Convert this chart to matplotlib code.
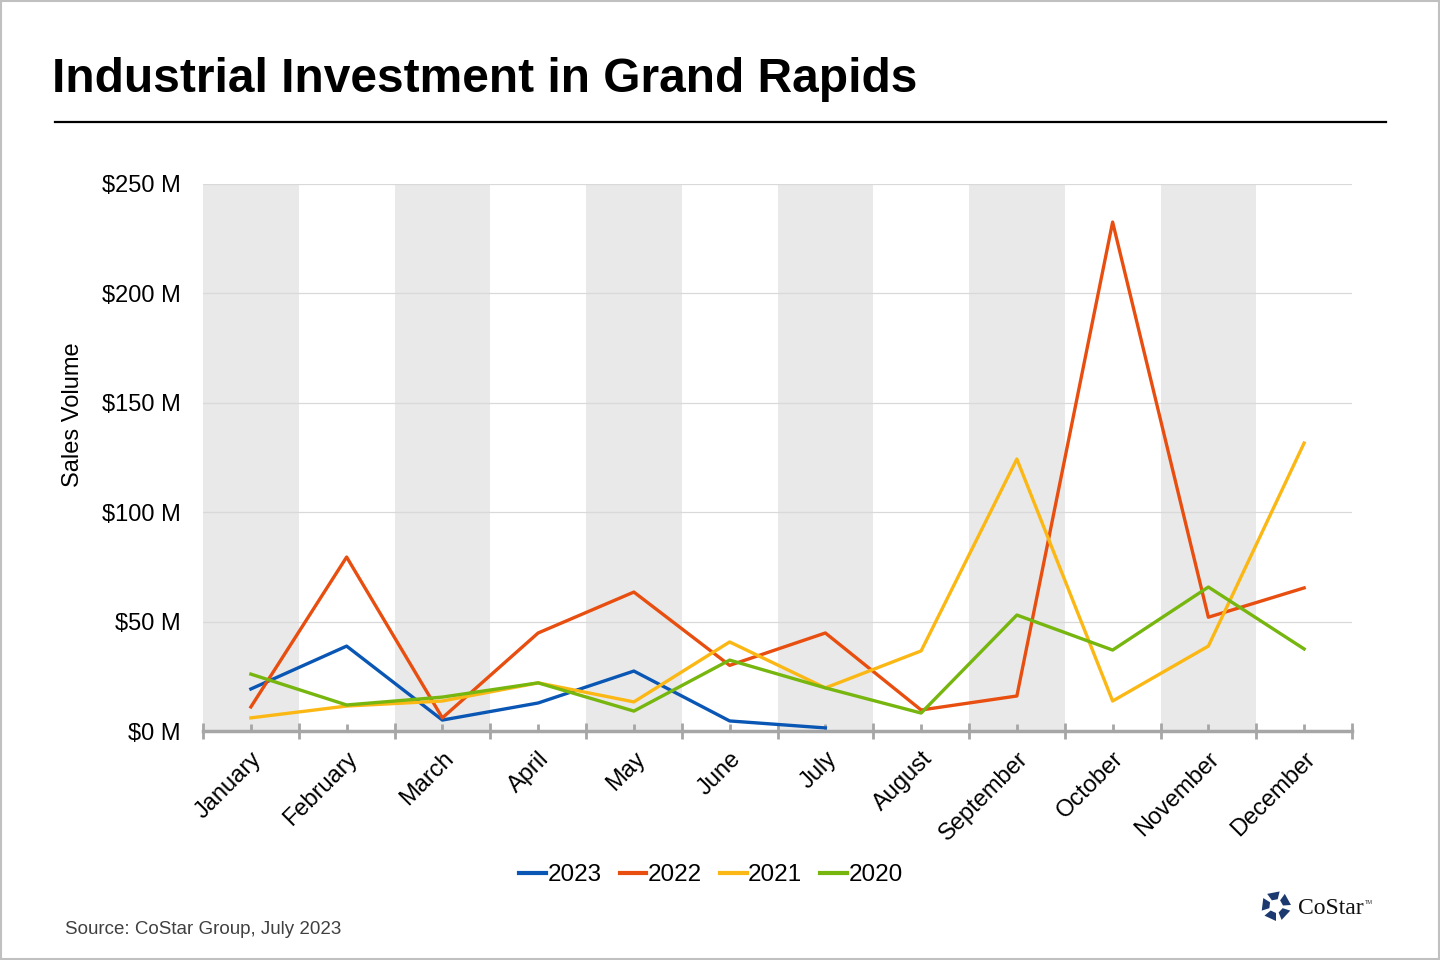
import numpy as np
import matplotlib.pyplot as plt
from matplotlib.patches import Polygon
from matplotlib.lines import Line2D

months = ["January", "February", "March", "April", "May", "June", "July",
          "August", "September", "October", "November", "December"]

# sales volume, $M
s2023 = [19.2, 38.8, 5.0, 12.8, 27.4, 4.6, 1.4]
s2022 = [11.0, 79.5, 6.0, 44.8, 63.5, 30.0, 44.8, 9.6, 16.0, 232.6, 52.0, 65.4]
s2021 = [6.0, 11.4, 13.7, 22.0, 13.3, 40.7, 19.7, 36.6, 124.3, 13.7, 38.8, 131.6]
s2020 = [26.0, 11.9, 15.5, 22.0, 9.1, 32.4, 19.7, 8.2, 53.0, 37.0, 65.8, 37.5]

series = [("2023", s2023, "#0a56b4"),
          ("2022", s2022, "#e84e0f"),
          ("2021", s2021, "#fbb814"),
          ("2020", s2020, "#76b60f")]

yticks = [0, 50, 100, 150, 200, 250]

plt.rcParams['font.family'] = ['Liberation Sans', 'DejaVu Sans']

fig = plt.figure(figsize=(14.4, 9.6), dpi=100)
fig.patch.set_facecolor("white")

# outer frame
fig.add_artist(plt.Rectangle((0.0005, 0.001), 0.999, 0.998, transform=fig.transFigure,
                             fill=False, edgecolor="#c0c0c0", linewidth=1.5))

fig.text(52 / 1440, 1 - 80 / 960, "Industrial Investment in Grand Rapids",
         fontsize=34.5, fontweight="bold", va="center", ha="left")
fig.add_artist(Line2D([55 / 1440, 1386 / 1440], [1 - 122 / 960, 1 - 122 / 960],
                      color="black", linewidth=1.6, transform=fig.transFigure))

ax = fig.add_axes([203 / 1440, 1 - 731 / 960, 1149 / 1440, 547 / 960])
x = np.arange(len(months))

for i in range(0, len(months), 2):
    ax.axvspan(i - 0.5, i + 0.5, color="#e9e9e9", zorder=0, linewidth=0)

for name, vals, col in series:
    ax.plot(x[:len(vals)], vals, color=col, linewidth=2.4, label=name, zorder=3)

ax.set_xlim(-0.5, len(months) - 0.5)
ax.set_ylim(0, 250)
ax.set_yticks(yticks)
ax.set_yticklabels([f"${v} M" for v in yticks], fontsize=17)
ax.yaxis.grid(True, color="#d9d9d9", linewidth=0.9, zorder=1)
ax.set_axisbelow(True)
ax.tick_params(axis="y", length=0, pad=16)

ax.set_xticks(np.arange(-0.5, len(months)), minor=False)
ax.set_xticklabels([])
ax.set_xticks(x, minor=True)
ax.set_xticklabels(months, minor=True, rotation=45, ha="right",
                   rotation_mode="anchor", fontsize=17)
ax.tick_params(axis="x", which="major", direction="inout", length=11,
               width=2, color="#a6a6a6")
ax.tick_params(axis="x", which="minor", direction="in", length=5,
               width=2, color="#a6a6a6", pad=12)

for s in ["top", "right", "left"]:
    ax.spines[s].set_visible(False)
ax.spines["bottom"].set_color("#a6a6a6")
ax.spines["bottom"].set_linewidth(2.5)
ax.spines["bottom"].set_zorder(4)

ax.set_ylabel("Sales Volume", fontsize=17)
ax.yaxis.set_label_coords(-0.1036, 0.578)

leg = fig.legend(loc="center", bbox_to_anchor=(711 / 1440, 1 - 875 / 960), ncol=4,
                 frameon=False, fontsize=17.5, handlelength=1.1, handletextpad=0.05,
                 columnspacing=0.75)
for h in leg.get_lines():
    h.set_linewidth(3)

fig.text(65 / 1440, 1 - 930 / 960, "Source: CoStar Group, July 2023",
         fontsize=13.5, color="#404040", va="center", ha="left")

# CoStar logo: ring of five dark blue blocks
cx, cy = 1276, 906
blue = "#1c3a70"
for k in range(5):
    a = np.deg2rad(90 + k * 72)
    b = np.deg2rad(90 + k * 72 + 50)
    pts = []
    for ang, r in [(a, 7), (a, 15), (b, 15), (b, 7)]:
        px = cx + r * np.cos(ang)
        py = cy + r * np.sin(ang)
        pts.append((px / 1440, 1 - py / 960))
    fig.add_artist(Polygon(pts, closed=True, transform=fig.transFigure,
                           facecolor=blue, edgecolor="none"))
fig.text(1298 / 1440, 1 - 908 / 960, "CoStar", fontsize=17, family="Liberation Serif",
         color="#111111", va="center", ha="left")
fig.text(1365 / 1440, 1 - 903 / 960, "TM", fontsize=4, color="#333333", va="center")

fig.savefig("out.png", dpi=100)
